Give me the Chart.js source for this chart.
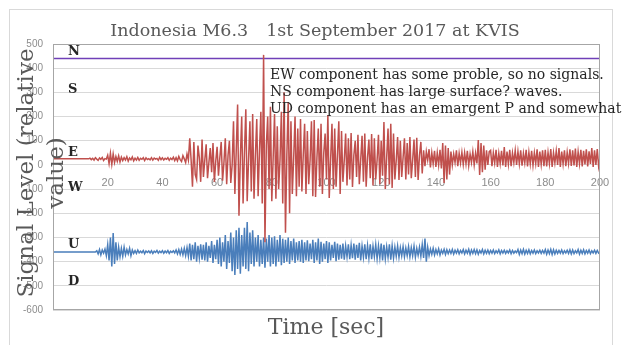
<!DOCTYPE html>
<html><head><meta charset="utf-8">
<script src="https://cdn.jsdelivr.net/npm/chart.js@4/dist/chart.umd.min.js"></script>
<style>html,body{margin:0;padding:0;background:#fff}#wrap{width:622px;height:345px;position:relative}</style>
</head><body><div id="wrap"><canvas id="c" width="622" height="345"></canvas></div>
<script>
// ---- data ----
const SAMPLE_STEP = 0.5; // seconds between samples
const ewTimes = [0, 200];
const ewValues = [440, 440];
const nsValues = [
25,25,25,25,25,25,25,25,25,25,25,25,25,25,25,25,25,25,25,25,25,25,25,25,25,25,
25,28,22,27,20,30,24,19,29,23,31,18,26,24,
40,5,48,2,45,10,35,15,38,12,
32,18,30,20,34,16,29,21,33,17,
28,20,31,19,27,23,30,18,29,22,
26,21,30,20,28,24,27,19,31,22,
29,20,27,23,30,19,28,22,32,18,
30,17,35,22,14,38,25,10,45,20,
110,20,-90,95,-40,-60,80,30,-70,105,
-50,20,85,-55,10,70,-30,90,-70,15,
75,-45,30,95,-65,10,110,-80,40,100,
-75,0,180,-120,60,250,-210,30,200,-160,
50,230,-150,20,180,-110,210,-140,40,190,
-130,60,220,-160,455,-320,80,200,-100,240,
-150,30,210,-140,160,-100,20,220,-160,300,
-280,40,260,-200,180,-120,30,200,-130,150,
-90,190,-110,40,170,-120,140,-80,20,180,
-130,186,-133,30,150,-90,170,-120,50,130,
-60,206,-137,20,170,-100,150,-90,40,180,
-120,140,-70,20,130,-85,110,-60,132,-91,
40,100,-50,125,-80,20,120,-70,130,-90,
30,105,-55,128,-85,110,-60,20,125,-80,
100,-45,177,-100,30,150,-80,170,-95,130,
-60,20,115,-62,100,-50,30,110,-60,90,
-40,115,-55,20,105,-50,112,-62,40,95,
-35,60,-5,55,20,65,-10,50,5,58,
-8,50,0,62,-15,90,-75,80,-60,70,
-40,55,0,45,10,60,-5,48,8,52,
2,50,5,58,-2,45,10,55,0,48,
6,103,-42,90,-30,80,-20,60,0,55,
60,-5,50,8,62,-8,48,5,58,-2,
74,-8,55,3,62,-5,50,10,60,0,
55,5,60,-3,48,8,62,-6,52,4,
58,-2,50,6,64,-8,55,2,60,-5,
62,-6,52,5,66,-8,50,8,58,0,
70,-8,55,4,60,-5,52,6,64,-4,
60,-2,68,-8,54,5,62,-6,58,2,
64,-6,56,4,70,-8,60,0,66,-5,
30];
const udValues = [
-360,-360,-360,-360,-360,-360,-360,-360,-360,-360,-360,-360,-360,-360,-360,-360,
-360,-360,-360,-360,-360,-360,-360,-360,-360,-360,-360,-360,-360,-360,-360,-360,
-355,-368,-350,-372,-352,-365,-348,-375,
-330,-395,-300,-420,-282,-410,-320,-395,-340,-380,
-345,-378,-340,-372,-350,-368,-345,-375,-352,-366,
-355,-366,-352,-364,-357,-363,-354,-367,-356,-362,
-356,-364,-355,-366,-357,-362,-354,-365,-357,-363,
-355,-365,-356,-363,-354,-366,-357,-362,-355,-364,
-352,-368,-350,-370,-348,-372,-345,-375,-342,-378,
-325,-395,-330,-390,-320,-400,-335,-385,-328,-392,
-330,-395,-320,-400,-335,-385,-315,-405,-330,-390,
-310,-410,-300,-420,-320,-400,-290,-430,-315,-405,
-280,-440,-300,-455,-270,-430,-260,-450,-290,-420,
-260,-430,-236,-440,-280,-410,-270,-420,-300,-400,
-290,-420,-310,-410,-300,-425,-305,-400,-290,-420,
-300,-410,-295,-420,-310,-400,-290,-415,-305,-405,
-310,-400,-300,-410,-315,-395,-305,-405,-320,-395,
-315,-400,-310,-405,-320,-395,-312,-398,-325,-390,
-310,-405,-320,-395,-305,-410,-318,-400,-325,-390,
-315,-405,-320,-395,-330,-385,-318,-398,-325,-392,
-330,-388,-325,-392,-335,-380,-328,-390,-332,-386,
-325,-392,-330,-385,-322,-395,-335,-382,-328,-390,
-333,-385,-328,-390,-336,-380,-330,-388,-335,-384,
-325,-395,-330,-388,-338,-382,-328,-392,-334,-385,
-340,-378,-335,-382,-342,-376,-338,-380,-344,-375,
-338,-380,-342,-376,-336,-382,-345,-374,-340,-378,
-330,-385,-305,-400,-340,-375,-348,-370,-345,-372,
-350,-368,-347,-372,-352,-366,-349,-370,-351,-367,
-352,-366,-350,-369,-353,-365,-351,-368,-354,-364,
-350,-368,-353,-365,-349,-370,-352,-366,-350,-367,
-351,-369,-354,-364,-350,-368,-353,-366,-352,-367,
-354,-365,-352,-367,-355,-364,-351,-368,-354,-365,
-353,-366,-355,-364,-352,-367,-354,-365,-356,-363,
-350,-370,-352,-367,-349,-369,-353,-366,-351,-368,
-354,-365,-352,-367,-355,-364,-353,-366,-354,-365,
-350,-369,-352,-367,-349,-370,-351,-368,-353,-366,
-354,-365,-352,-367,-355,-364,-353,-366,-351,-368,
-352,-367,-355,-364,-350,-369,-353,-366,-351,-368,
-354,-365,-352,-367,-355,-364,-353,-366,-354,-365,
-360];
const xMin = 0, xMax = 200, xStep = 20;
const yMin = -600, yMax = 500, yStep = 100;
const titleText = 'Indonesia M6.3\u30001st September 2017 at KVIS';
const xTitle = 'Time [sec]';
const yTitleLines = ['Signal Level (relative', 'value)'];
const noteLines = ['EW component has some proble, so no signals.',
                   'NS component has large surface? waves.',
                   'UD component has an emargent P and somewhat'];
const dirLabels = ['N', 'S', 'E', 'W', 'U', 'D'];

// ---- build ----
const toPts = (vals) => vals.map((v, i) => ({x: i * SAMPLE_STEP, y: v}));
const ewPts = ewTimes.map((t, i) => ({x: t, y: ewValues[i]}));

const SERIF = '"DejaVu Serif", serif';
const decor = {
  id: 'decor',
  beforeDraw(chart) {
    const c = chart.ctx;
    c.save();
    c.fillStyle = '#fff';
    c.fillRect(0, 0, chart.width, chart.height);
    c.strokeStyle = '#d9d9d9';
    c.lineWidth = 1;
    c.strokeRect(9.5, 9.5, 603, 400);
    c.restore();
  },
  afterDraw(chart) {
    const c = chart.ctx, a = chart.chartArea;
    c.save();
    // plot border
    c.strokeStyle = '#a6a6a6';
    c.lineWidth = 1;
    c.strokeRect(Math.round(a.left) + 0.5, Math.round(a.top) + 0.5, Math.round(a.right - a.left) - 1, Math.round(a.bottom - a.top) - 1);
    // title
    c.fillStyle = '#595959';
    c.font = '17.5px ' + SERIF;
    c.textAlign = 'center';
    c.textBaseline = 'middle';
    c.fillText(titleText, 315, 31);
    // x title
    c.font = '22px ' + SERIF;
    c.fillText(xTitle, 326, 328);
    // y title
    c.save();
    c.translate(27, 173);
    c.rotate(-Math.PI / 2);
    c.font = '23px ' + SERIF;
    yTitleLines.forEach((l, i) => c.fillText(l, 0, i * 30));
    c.restore();
    // direction labels
    c.fillStyle = '#262626';
    c.font = 'bold 13px ' + SERIF;
    c.textAlign = 'left';
    const dy = [52, 90, 153, 188, 245, 282];
    dirLabels.forEach((l, i) => c.fillText(l, a.left + 15, dy[i]));
    // notes
    c.font = '14px ' + SERIF;
    c.fillStyle = '#262626';
    noteLines.forEach((l, i) => c.fillText(l, 270, 75 + i * 17));
    c.restore();
  }
};

new Chart(document.getElementById('c'), {
  type: 'line',
  data: {
    datasets: [
      {label: 'NS', data: toPts(nsValues), borderColor: '#c0504d', borderWidth: 1.5, pointRadius: 0, order: 0},
      {label: 'UD', data: toPts(udValues), borderColor: '#4a7ebb', borderWidth: 1.5, pointRadius: 0, order: 1},
      {label: 'EW', data: ewPts, borderColor: '#7040b8', borderWidth: 1.5, pointRadius: 0, order: 2}
    ]
  },
  options: {
    responsive: false,
    animation: false,
    devicePixelRatio: 1,
    layout: {padding: {left: 0, top: 44, right: 22, bottom: 35}},
    plugins: {legend: {display: false}, tooltip: {enabled: false}, title: {display: false}},
    scales: {
      x: {
        type: 'linear', min: xMin, max: xMax, position: {y: 0},
        grid: {display: false}, border: {display: false},
        ticks: {stepSize: xStep, color: '#8c8c8c', padding: 3, maxRotation: 0, autoSkip: false,
                font: {family: 'Liberation Sans', size: 11},
                callback: v => v === 0 ? '' : v}
      },
      y: {
        min: yMin, max: yMax,
        grid: {color: '#d9d9d9', drawTicks: false}, border: {display: false},
        ticks: {stepSize: yStep, color: '#8c8c8c', padding: 10, font: {family: 'Liberation Sans', size: 10}},
        afterFit: s => { s.width = 53; }
      }
    }
  },
  plugins: [decor]
});
</script></body></html>
